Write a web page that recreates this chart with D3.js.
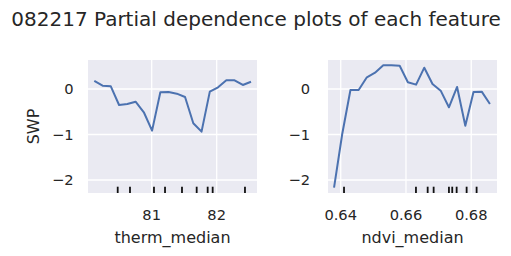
<!DOCTYPE html>
<html><head><meta charset="utf-8">
<script src="https://cdn.jsdelivr.net/npm/d3@7"></script>
<style>body{margin:0;background:#fff}svg{display:block}text{font-family:"DejaVu Sans",sans-serif;fill:#262626}</style>
</head><body>
<script>
const title = "082217 Partial dependence plots of each feature";
const yLabel = "SWP";
const yTicks = [0, -1, -2];

const thermName = "therm_median";
const thermGrid = [80.117,80.244,80.371,80.498,80.625,80.752,80.879,81.006,81.133,81.260,81.386,81.513,81.640,81.767,81.894,82.021,82.148,82.275,82.402,82.528];
const thermPD = [0.176,0.073,0.059,-0.352,-0.330,-0.279,-0.512,-0.916,-0.073,-0.066,-0.103,-0.176,-0.754,-0.938,-0.059,0.037,0.191,0.191,0.088,0.160];
const thermDeciles = [80.477,80.666,81.035,81.205,81.466,81.692,81.861,81.938,82.435];
const thermTicks = [81, 82];

const ndviName = "ndvi_median";
const ndviGrid = [0.63795,0.64046,0.64298,0.64549,0.64801,0.65052,0.65304,0.65555,0.65807,0.66058,0.66310,0.66561,0.66813,0.67064,0.67316,0.67567,0.67819,0.68070,0.68322,0.68573];
const ndviPD = [-2.169,-0.989,-0.022,-0.022,0.257,0.358,0.521,0.521,0.512,0.147,0.095,0.468,0.110,-0.037,-0.402,0.044,-0.807,-0.066,-0.059,-0.330];
const ndviDeciles = [0.64101,0.66306,0.66665,0.66848,0.67317,0.67418,0.67553,0.67859,0.68165];
const ndviTicks = [0.64, 0.66, 0.68];

const W = 511, H = 256;
const svg = d3.select("body").append("svg").attr("width", W).attr("height", H);

svg.append("text").attr("x", 256).attr("y", 26).attr("text-anchor", "middle")
  .style("font-size", "20px").text(title);

const plotTop = 60, plotBottom = 193;
const y = d3.scaleLinear().domain([0.637, -2.286]).range([plotTop, plotBottom]);
const fmtY = d => d < 0 ? "\u2212" + Math.abs(d) : String(d);

function panel(x0, x1, xDomain, grid, pd, deciles, ticks, fmtX, name, yLabX, showYLabel) {
  const x = d3.scaleLinear().domain(xDomain).range([x0, x1]);
  const g = svg.append("g");
  g.append("rect").attr("x", x0).attr("y", plotTop).attr("width", x1 - x0).attr("height", plotBottom - plotTop).attr("fill", "#EAEAF2");
  g.selectAll(".gx").data(ticks).join("line")
    .attr("x1", d => x(d)).attr("x2", d => x(d)).attr("y1", plotTop).attr("y2", plotBottom)
    .attr("stroke", "#fff").attr("stroke-width", 1.3);
  g.selectAll(".gy").data(yTicks).join("line")
    .attr("x1", x0).attr("x2", x1).attr("y1", d => y(d)).attr("y2", d => y(d))
    .attr("stroke", "#fff").attr("stroke-width", 1.3);
  g.selectAll(".rug").data(deciles).join("line")
    .attr("x1", d => x(d)).attr("x2", d => x(d)).attr("y1", plotBottom - 6.3).attr("y2", plotBottom)
    .attr("stroke", "#111").attr("stroke-width", 1.8);
  const line = d3.line().x((d, i) => x(grid[i])).y(d => y(d));
  g.append("path").datum(pd).attr("d", line).attr("fill", "none")
    .attr("stroke", "#4C72B0").attr("stroke-width", 2).attr("stroke-linejoin", "round");
  g.selectAll(".xt").data(ticks).join("text")
    .attr("x", d => x(d)).attr("y", 219.5).attr("text-anchor", "middle")
    .style("font-size", "14.67px").text(fmtX);
  g.selectAll(".yt").data(yTicks).join("text")
    .attr("x", yLabX).attr("y", d => y(d) + 5.3).attr("text-anchor", "end")
    .style("font-size", "14.67px").text(fmtY);
  g.append("text").attr("x", (x0 + x1) / 2).attr("y", 243).attr("text-anchor", "middle")
    .style("font-size", "16px").text(name);
  if (showYLabel) {
    g.append("text").attr("transform", `translate(39,${(plotTop + plotBottom) / 2}) rotate(-90)`)
      .attr("text-anchor", "middle").style("font-size", "16px").text(yLabel);
  }
}

panel(88, 257, [80.02, 82.62], thermGrid, thermPD, thermDeciles, thermTicks, d => String(d), thermName, 73.5, true);
panel(328, 497, [0.6361, 0.6879], ndviGrid, ndviPD, ndviDeciles, ndviTicks, d => d.toFixed(2), ndviName, 310, false);
</script>
</body></html>
